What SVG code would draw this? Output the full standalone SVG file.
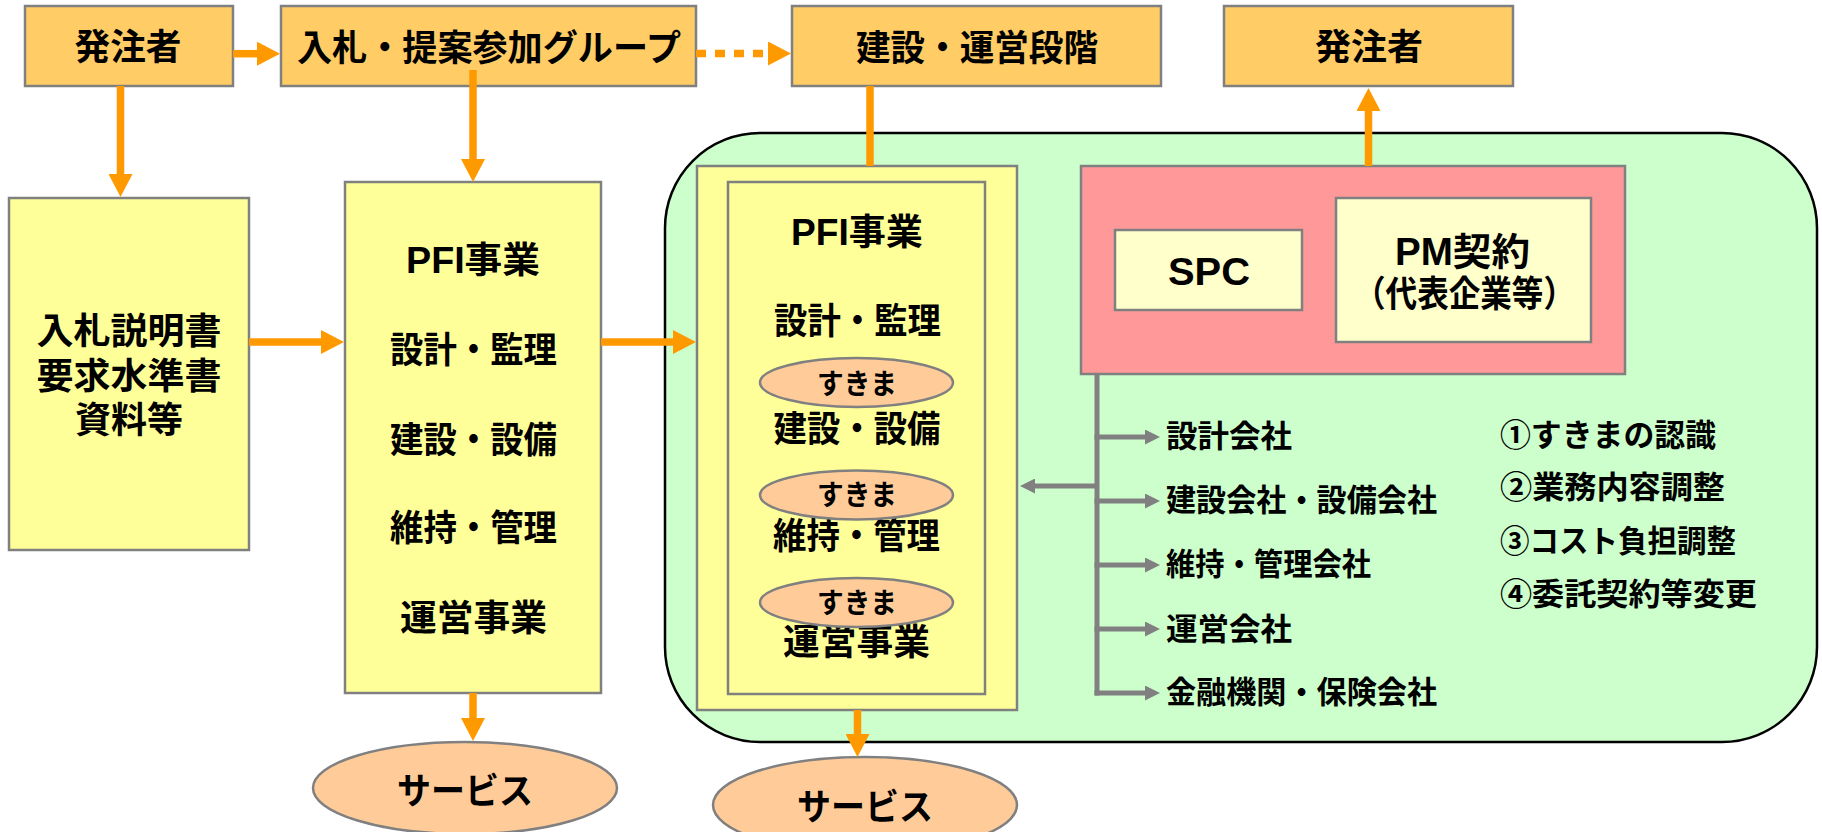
<svg xmlns="http://www.w3.org/2000/svg" width="1822" height="832" viewBox="0 0 1822 832">
<defs>
<style>
text{font-family:"Liberation Sans","Noto Sans CJK JP",sans-serif;font-weight:bold;fill:#000;dominant-baseline:central;text-anchor:middle}
.t36{font-size:36px}
.t38{font-size:38px}
.t31{font-size:31px;text-anchor:start}
.t28{font-size:28px}
.box{stroke:#808080;stroke-width:2.5}
.org{fill:#FFCC66}
.yel{fill:#FFFF99}
.lyel{fill:#FFFFCC}
.pink{fill:#FF9999}
.peach{fill:#FFCC99}
.oline{stroke:#FF9900;stroke-width:7.5;fill:none}
.gline{stroke:#808080;stroke-width:5;fill:none}
</style>
<marker id="oh" viewBox="0 0 23 24" refX="1" refY="12" markerWidth="23" markerHeight="24" markerUnits="userSpaceOnUse" orient="auto"><path d="M0,0 L23,12 L0,24 z" fill="#FF9900"/></marker>
<marker id="gh" viewBox="0 0 15 15" refX="1" refY="7.5" markerWidth="15" markerHeight="15" markerUnits="userSpaceOnUse" orient="auto"><path d="M0,0 L15,7.5 L0,15 z" fill="#808080"/></marker>
</defs>
<rect width="1822" height="832" fill="#FFFFFF"/>

<g id="stage-area">
<rect x="665" y="133" width="1152" height="609" rx="95" ry="95" fill="#CCFFCC" stroke="#000" stroke-width="2.5"/>
</g>

<g id="hatchusha-left"><rect class="box org" x="25" y="6" width="208" height="80"/><text class="t36" x="128" y="47.5" textLength="107" lengthAdjust="spacingAndGlyphs">発注者</text></g>
<g id="bid-group"><rect class="box org" x="281" y="6" width="415" height="80"/><text class="t36" x="489" y="48" textLength="384" lengthAdjust="spacingAndGlyphs">入札・提案参加グループ</text></g>
<g id="build-operate-stage"><rect class="box org" x="792" y="6" width="369" height="80"/><text class="t36" x="977" y="48" textLength="242" lengthAdjust="spacingAndGlyphs">建設・運営段階</text></g>
<g id="hatchusha-right"><rect class="box org" x="1224" y="6" width="289" height="80"/><text class="t36" x="1369" y="47.5" textLength="108" lengthAdjust="spacingAndGlyphs">発注者</text></g>

<g id="bid-documents"><rect class="box yel" x="9" y="198" width="240" height="352"/>
<text class="t36" x="129" y="331" textLength="185" lengthAdjust="spacingAndGlyphs">入札説明書</text>
<text class="t36" x="129" y="376" textLength="185" lengthAdjust="spacingAndGlyphs">要求水準書</text>
<text class="t36" x="129" y="420" textLength="108" lengthAdjust="spacingAndGlyphs">資料等</text></g>

<g id="pfi-proposal"><rect class="box yel" x="345" y="182" width="256" height="511"/>
<text class="t36" x="473" y="260.5" textLength="134" lengthAdjust="spacingAndGlyphs">PFI事業</text>
<text class="t36" x="473.5" y="350" textLength="167" lengthAdjust="spacingAndGlyphs">設計・監理</text>
<text class="t36" x="473.5" y="440" textLength="167" lengthAdjust="spacingAndGlyphs">建設・設備</text>
<text class="t36" x="473.5" y="528.5" textLength="167" lengthAdjust="spacingAndGlyphs">維持・管理</text>
<text class="t36" x="473.5" y="618.5" textLength="147" lengthAdjust="spacingAndGlyphs">運営事業</text></g>

<g id="pfi-stage"><rect class="box yel" x="697" y="166" width="320" height="544"/>
<rect class="box yel" x="728" y="182" width="257" height="512"/>
<text class="t36" x="857" y="232.5" textLength="132" lengthAdjust="spacingAndGlyphs">PFI事業</text>
<text class="t36" x="857.5" y="321.5" textLength="167" lengthAdjust="spacingAndGlyphs">設計・監理</text>
<text class="t36" x="857" y="429.5" textLength="167" lengthAdjust="spacingAndGlyphs">建設・設備</text>
<text class="t36" x="856.5" y="536.5" textLength="167" lengthAdjust="spacingAndGlyphs">維持・管理</text>
<text class="t36" x="856.5" y="642.5" textLength="147" lengthAdjust="spacingAndGlyphs">運営事業</text></g>
<g id="gap-1"><ellipse class="box peach" cx="856.5" cy="382.5" rx="96.5" ry="24.5"/><text class="t28" x="857" y="384.5" textLength="80" lengthAdjust="spacingAndGlyphs">すきま</text></g>
<g id="gap-2"><ellipse class="box peach" cx="856.5" cy="495" rx="96.5" ry="24.5"/><text class="t28" x="857" y="495.5" textLength="80" lengthAdjust="spacingAndGlyphs">すきま</text></g>
<g id="gap-3"><ellipse class="box peach" cx="856.5" cy="602.5" rx="96.5" ry="24.5"/><text class="t28" x="857" y="603.5" textLength="80" lengthAdjust="spacingAndGlyphs">すきま</text></g>

<g id="spc-group"><rect class="box pink" x="1081" y="166" width="544" height="208"/></g>
<g id="spc"><rect class="box lyel" x="1115" y="230" width="187" height="80"/><text class="t38" x="1209" y="271.5" textLength="82" lengthAdjust="spacingAndGlyphs">SPC</text></g>
<g id="pm-contract"><rect class="box lyel" x="1336" y="198" width="255" height="144"/>
<text class="t38" x="1462.5" y="251.5" textLength="135" lengthAdjust="spacingAndGlyphs">PM契約</text>
<text class="t36" x="1464.5" y="294" textLength="221" lengthAdjust="spacingAndGlyphs">（代表企業等）</text></g>

<g id="service-left"><ellipse class="box peach" cx="465" cy="788" rx="152" ry="46"/><text class="t36" x="465" y="791.5" textLength="136" lengthAdjust="spacingAndGlyphs">サービス</text></g>
<g id="service-right"><ellipse class="box peach" cx="865" cy="805" rx="152" ry="48"/><text class="t36" x="865" y="807.5" textLength="136" lengthAdjust="spacingAndGlyphs">サービス</text></g>

<g id="companies">
<text class="t31" x="1166" y="436" textLength="126" lengthAdjust="spacingAndGlyphs">設計会社</text>
<text class="t31" x="1166" y="500" textLength="271" lengthAdjust="spacingAndGlyphs">建設会社・設備会社</text>
<text class="t31" x="1166" y="564" textLength="205" lengthAdjust="spacingAndGlyphs">維持・管理会社</text>
<text class="t31" x="1166" y="629" textLength="126" lengthAdjust="spacingAndGlyphs">運営会社</text>
<text class="t31" x="1166" y="692.5" textLength="271" lengthAdjust="spacingAndGlyphs">金融機関・保険会社</text>
</g>
<g id="issues">
<text class="t31" x="1500" y="435" textLength="216" lengthAdjust="spacingAndGlyphs">①すきまの認識</text>
<text class="t31" x="1500" y="487" textLength="225" lengthAdjust="spacingAndGlyphs">②業務内容調整</text>
<text class="t31" x="1500" y="541" textLength="236" lengthAdjust="spacingAndGlyphs">③コスト負担調整</text>
<text class="t31" x="1500" y="594" textLength="257" lengthAdjust="spacingAndGlyphs">④委託契約等変更</text>
</g>

<g id="connectors">
<line class="oline" x1="233" y1="53.7" x2="258" y2="53.7" marker-end="url(#oh)"/>
<line class="oline" x1="696" y1="53.5" x2="769" y2="53.5" stroke-dasharray="10 9" marker-end="url(#oh)"/>
<line class="oline" x1="120.5" y1="86" x2="120.5" y2="175" marker-end="url(#oh)"/>
<line class="oline" x1="473" y1="70" x2="473" y2="160" marker-end="url(#oh)"/>
<line class="oline" x1="249" y1="342" x2="322" y2="342" marker-end="url(#oh)"/>
<line class="oline" x1="601" y1="342" x2="674" y2="342" marker-end="url(#oh)"/>
<line class="oline" x1="870" y1="86" x2="870" y2="166"/>
<line class="oline" x1="1368.5" y1="166" x2="1368.5" y2="110" marker-end="url(#oh)"/>
<line class="oline" x1="473" y1="693" x2="473" y2="719" marker-end="url(#oh)"/>
<line class="oline" x1="857.5" y1="710" x2="857.5" y2="735" marker-end="url(#oh)"/>
<line class="gline" x1="1097" y1="374" x2="1097" y2="695.5"/>
<line class="gline" x1="1094.5" y1="437" x2="1146" y2="437" marker-end="url(#gh)"/>
<line class="gline" x1="1094.5" y1="501" x2="1146" y2="501" marker-end="url(#gh)"/>
<line class="gline" x1="1094.5" y1="565" x2="1146" y2="565" marker-end="url(#gh)"/>
<line class="gline" x1="1094.5" y1="629" x2="1146" y2="629" marker-end="url(#gh)"/>
<line class="gline" x1="1094.5" y1="693" x2="1146" y2="693" marker-end="url(#gh)"/>
<line class="gline" x1="1097" y1="486" x2="1034" y2="486" marker-end="url(#gh)"/>
</g>
</svg>
